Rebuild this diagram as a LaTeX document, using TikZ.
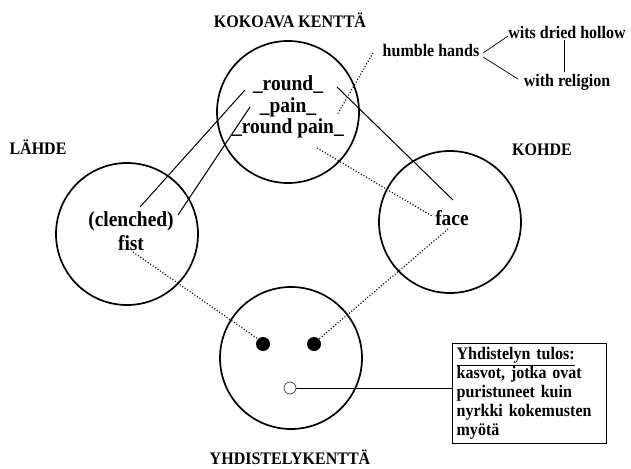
\documentclass[tikz,border=0pt]{standalone}
\usepackage{fontspec}
\setmainfont[FakeStretch=0.91]{Liberation Serif}
\begin{document}
\begin{tikzpicture}[x=1pt,y=-1pt,
  field/.style={draw,circle,line width=1.7pt,minimum size=142pt,inner sep=0pt},
  big/.style={font=\fontsize{21.4}{22}\selectfont\bfseries,inner sep=1pt},
  lab/.style={font=\fontsize{17.6}{19}\selectfont\bfseries,inner sep=1pt},
  conn/.style={line width=1pt},
  dotl/.style={line width=1.2pt,dash pattern=on 1pt off 2pt},
  thin/.style={line width=0.7pt}]
\useasboundingbox (0,0) rectangle (631,468);
% fields
\node[field] (kok) at (288,112) {};
\node[field] (lah) at (127,234) {};
\node[field] (koh) at (450,222) {};
\node[field] (yhd) at (291,358) {};
% labels
\node[lab] (lkok) at (290,20) {KOKOAVA KENTTÄ};
\node[lab] (llah) at (38,147) {LÄHDE};
\node[lab] (lkoh) at (542,150) {KOHDE};
\node[lab] (lyhd) at (290,457) {YHDISTELYKENTTÄ};
% texts
\node[big] (round) at (288,85) {\_round\_};
\node[big] (pain) at (288,107) {\_pain\_};
\node[big] (rpain) at (288,128) {\_round pain\_};
\node[big] (clen) at (131,221) {(clenched)};
\node[big] (fist) at (131,243) {fist};
\node[big] (face) at (452,218) {face};
\node[lab] (humble) at (431,51) {humble hands};
\node[lab] (wits) at (567,32) {wits dried hollow};
\node[lab] (relig) at (567,82) {with religion};
% dots
\node[circle,fill=black,minimum size=14pt,inner sep=0pt] (eyeL) at (263,344) {};
\node[circle,fill=black,minimum size=14pt,inner sep=0pt] (eyeR) at (314,344) {};
\node[circle,draw=black!70,line width=0.8pt,minimum size=12pt,inner sep=0pt] (mouth) at (290,388) {};
% result box
\node[draw,line width=1.3pt,anchor=north west,text width=146pt,align=left,inner sep=4pt,
  font=\fontsize{17.6}{19}\selectfont\bfseries] (box) at (452,343)
  {\underline{Yhdistelyn tulos:}\\kasvot, jotka ovat\\puristuneet kuin\\nyrkki kokemusten\\myötä};
% connector end points
\coordinate (a1) at (140,207); \coordinate (a2) at (245,90);
\coordinate (b1) at (178,215); \coordinate (b2) at (250,107);
\coordinate (c1) at (337,87);  \coordinate (c2) at (453,200);
\coordinate (d1) at (373,53);  \coordinate (d2) at (337,115);
\coordinate (e1) at (317,148); \coordinate (e2) at (432,216);
\coordinate (f1) at (448,229);
\coordinate (g1) at (133,252);
\coordinate (h1) at (483,53);  \coordinate (h2) at (508,36);
\coordinate (i1) at (483,57);  \coordinate (i2) at (518,79);
\coordinate (j1) at (564,40);  \coordinate (j2) at (564,72);
% solid connectors
\draw[conn] (a1) -- (a2);
\draw[conn] (b1) -- (b2);
\draw[conn] (c1) -- (c2);
\draw[conn] (mouth.east) -- (box.west |- mouth.east);
\draw[thin] (h1) -- (h2);
\draw[thin] (i1) -- (i2);
\draw[thin] (j1) -- (j2);
% dotted connectors
\draw[dotl] (d1) -- (d2);
\draw[dotl] (e1) -- (e2);
\draw[dotl] (f1) -- (eyeR.north east);
\draw[dotl] (g1) -- (eyeL.north west);
\end{tikzpicture}
\end{document}
